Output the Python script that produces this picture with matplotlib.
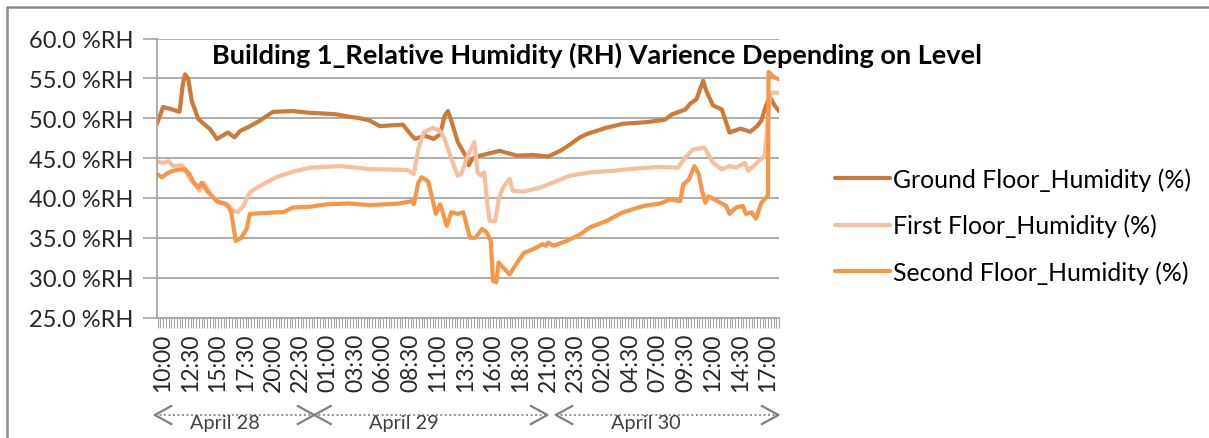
import matplotlib
matplotlib.use('Agg')
import matplotlib.pyplot as plt
from matplotlib.lines import Line2D
from matplotlib.ticker import MultipleLocator, FixedLocator
import matplotlib.transforms as mtransforms

plt.rcParams['font.family'] = ['Lato', 'DejaVu Sans']

# hours since 10:00 on April 28
ground_h = [-0.55, 0.0, 0.6, 1.5, 1.8, 2.0, 2.3, 2.6, 3.2, 3.7, 4.3, 4.9, 5.9, 6.5, 7.0, 7.9, 8.8,
            10.0, 11.8, 13.1, 15.7, 16.9, 17.9, 18.8, 19.7, 21.8, 22.5, 22.9, 23.8, 24.6, 25.2, 25.6,
            25.9, 26.2, 26.8, 27.5, 27.8, 28.1, 28.8, 30.6, 32.2, 33.6, 35.0, 36.1, 37.0, 37.9, 38.5,
            40.3, 41.8, 43.9, 45.6, 46.3, 47.5, 47.9, 48.5, 49.1, 49.4, 50.0, 50.8, 51.5, 52.5, 53.4,
            54.0, 54.4, 54.7, 55.0, 55.3, 55.6, 56.0]
ground_rh = [49.3, 51.4, 51.2, 50.8, 54.3, 55.5, 54.9, 52.2, 49.9, 49.3, 48.6, 47.4, 48.2, 47.6, 48.4,
             49.0, 49.7, 50.8, 50.9, 50.7, 50.5, 50.2, 50.0, 49.7, 49.0, 49.2, 48.0, 47.4, 47.8, 47.4,
             48.0, 50.3, 50.9, 49.7, 47.0, 45.3, 44.1, 44.9, 45.3, 45.9, 45.3, 45.4, 45.2, 45.9, 46.7,
             47.6, 48.0, 48.8, 49.3, 49.5, 49.8, 50.5, 51.1, 51.8, 52.4, 54.7, 53.4, 51.6, 51.1, 48.2,
             48.7, 48.3, 49.0, 49.7, 51.1, 52.2, 52.4, 51.6, 50.9]

first_h = [-0.55, 0.0, 0.5, 0.9, 1.7, 2.1, 2.6, 3.0, 3.3, 3.7, 4.3, 5.0, 5.8, 6.4, 6.8, 7.3, 7.9, 8.8,
           10.3, 11.8, 13.4, 14.9, 16.1, 17.6, 18.8, 19.7, 22.2, 22.8, 23.2, 23.7, 24.5, 25.2, 25.6,
           26.2, 26.8, 27.1, 27.7, 28.3, 28.6, 28.9, 29.2, 29.5, 29.7, 30.2, 30.5, 30.9, 31.5, 31.8,
           32.8, 34.3, 36.1, 37.0, 37.9, 38.8, 40.9, 43.0, 45.2, 46.8, 47.5, 48.2, 49.2, 49.4, 50.0,
           50.8, 51.5, 52.1, 52.9, 53.2, 54.0, 54.7, 55.2, 56.0]
first_rh = [44.6, 44.4, 44.6, 44.0, 44.1, 43.2, 42.1, 41.7, 40.9, 41.9, 40.5, 39.4, 39.2, 38.4, 38.2,
            39.0, 40.7, 41.5, 42.6, 43.3, 43.8, 43.9, 44.0, 43.8, 43.6, 43.6, 43.5, 43.0, 46.1, 48.2,
            48.8, 48.4, 47.4, 44.9, 42.8, 43.0, 45.3, 47.0, 43.2, 42.8, 43.2, 39.0, 37.1, 37.1, 39.8,
            41.3, 42.4, 40.9, 40.8, 41.3, 42.3, 42.8, 43.0, 43.2, 43.4, 43.7, 43.9, 43.8, 45.1, 46.1,
            46.3, 45.9, 44.4, 43.6, 44.0, 43.8, 44.4, 43.4, 44.4, 45.3, 53.2, 53.2]

second_h = [-0.55, -0.1, 0.5, 1.2, 2.0, 2.4, 2.8, 3.2, 3.5, 4.1, 4.9, 5.8, 6.2, 6.6, 7.1, 7.6, 7.9, 9.1,
            10.3, 10.9, 11.8, 13.4, 14.9, 16.9, 18.8, 21.5, 22.6, 22.8, 23.2, 23.5, 24.1, 24.5, 24.8,
            25.2, 25.8, 26.2, 26.8, 27.3, 27.9, 28.4, 29.0, 29.4, 29.8, 30.0, 30.3, 30.5, 30.9, 31.5,
            32.3, 32.8, 33.7, 34.5, 34.8, 35.0, 35.5, 36.7, 37.0, 37.9, 38.8, 40.3, 41.8, 43.7, 45.2,
            46.1, 47.0, 47.3, 47.8, 48.3, 48.7, 49.0, 49.3, 49.6, 50.4, 51.2, 51.5, 52.1, 52.7, 53.0,
            53.5, 53.9, 54.4, 55.0, 55.05, 55.6, 56.0]
second_rh = [43.0, 42.6, 43.2, 43.5, 43.6, 43.0, 41.9, 41.3, 41.9, 40.7, 39.6, 39.2, 38.2, 34.6, 35.0,
             36.1, 38.0, 38.1, 38.2, 38.2, 38.8, 38.9, 39.2, 39.3, 39.1, 39.3, 39.6, 39.2, 41.9, 42.6,
             42.1, 39.8, 38.0, 39.2, 36.5, 38.2, 38.0, 38.2, 35.0, 35.0, 36.1, 35.7, 34.6, 29.6, 29.4,
             31.9, 31.3, 30.4, 32.1, 33.1, 33.6, 34.2, 34.0, 34.4, 34.0, 34.6, 34.8, 35.4, 36.3, 37.1,
             38.2, 39.0, 39.3, 39.8, 39.6, 41.7, 42.3, 44.0, 43.0, 40.9, 39.4, 40.2, 39.6, 39.0, 38.0,
             38.8, 39.0, 38.0, 38.2, 37.4, 39.4, 40.3, 55.8, 55.1, 54.9]

tick_hours = [2.5 * i for i in range(23)]
tick_labels = ['10:00', '12:30', '15:00', '17:30', '20:00', '22:30', '01:00', '03:30', '06:00',
               '08:30', '11:00', '13:30', '16:00', '18:30', '21:00', '23:30', '02:00', '04:30',
               '07:00', '09:30', '12:00', '14:30', '17:00']
y_ticks = [25, 30, 35, 40, 45, 50, 55, 60]

series_names = ['Ground Floor_Humidity (%)', 'First Floor_Humidity (%)', 'Second Floor_Humidity (%)']
colors = ['#CB7A3A', '#F7BE9F', '#F79646']

# day brackets: (start hour, end hour, label hour, label)
days = [(-0.75, 13.75, 5.6, 'April 28'), (13.75, 34.95, 21.9, 'April 29'),
        (35.7, 55.95, 43.9, 'April 30')]

W, H = 1209, 439
fig = plt.figure(figsize=(W / 100, H / 100), dpi=100)
ax = fig.add_axes([157 / W, 1 - 318.5 / H, (779 - 157) / W, (318.5 - 39.5) / H])

for xs, ys, name, c in zip([ground_h, first_h, second_h], [ground_rh, first_rh, second_rh],
                           series_names, colors):
    ax.plot(xs, ys, color=c, lw=3.0, label=name, solid_joinstyle='round', solid_capstyle='round')

ax.set_xlim(-0.55, 56.0)
ax.set_ylim(25, 60)
ax.set_yticks(y_ticks)
ax.set_yticklabels(['%.1f %%RH' % v for v in y_ticks], fontsize=17, color='#262626')
ax.yaxis.grid(True, color='#A6A6A6', lw=1.3)
ax.set_axisbelow(True)
ax.tick_params(axis='y', length=10, width=1.2, color='#A6A6A6', pad=7)

ax.xaxis.set_major_locator(FixedLocator(tick_hours))
ax.set_xticklabels(tick_labels, rotation=90, fontsize=16.5, color='#262626')
ax.xaxis.set_minor_locator(MultipleLocator(0.25))
ax.tick_params(axis='x', which='both', length=7, width=0.8, color='#A6A6A6', pad=4)

for s in ['top', 'right']:
    ax.spines[s].set_visible(False)
for s in ['left', 'bottom']:
    ax.spines[s].set_color('#A6A6A6')
    ax.spines[s].set_linewidth(1.3)

fig.text(597 / W, 1 - 55 / H, 'Building 1_Relative Humidity (RH) Varience Depending on Level',
         ha='center', va='center', fontsize=19.5, fontweight='bold', color='black')

fig.legend(loc='upper left', bbox_to_anchor=(835 / W, 1 - 168 / H), frameon=False,
           fontsize=17.9, handlelength=2.2, handletextpad=0.12, labelspacing=0.93,
           borderpad=0, borderaxespad=0)

# dotted day brackets under the axis
trans = mtransforms.blended_transform_factory(ax.transData, fig.transFigure)
yb = 1 - 416 / H
dy = 9 / H
dxh = 1.5
for x0, x1, xl, lab in days:
    ax.add_line(Line2D([x0, x1], [yb, yb], transform=trans, color='#808080', lw=1.3,
                       ls=(0, (1, 1.5)), clip_on=False))
    ax.add_line(Line2D([x0 + dxh, x0, x0 + dxh], [yb + dy, yb, yb - dy], transform=trans,
                       color='#808080', lw=1.6, clip_on=False))
    ax.add_line(Line2D([x1 - dxh, x1, x1 - dxh], [yb + dy, yb, yb - dy], transform=trans,
                       color='#808080', lw=1.6, clip_on=False))
    ax.text(xl, 1 - 424 / H, lab, transform=trans, ha='center', va='center', fontsize=14.3,
            color='#404040')

# outer chart border (left and top only visible)
fig.add_artist(Line2D([7 / W, 7 / W, 1.0], [0.0, 1 - 8 / H, 1 - 8 / H],
                      transform=fig.transFigure, color='#8C8C8C', lw=1.8))

fig.savefig('out.png', dpi=100)
